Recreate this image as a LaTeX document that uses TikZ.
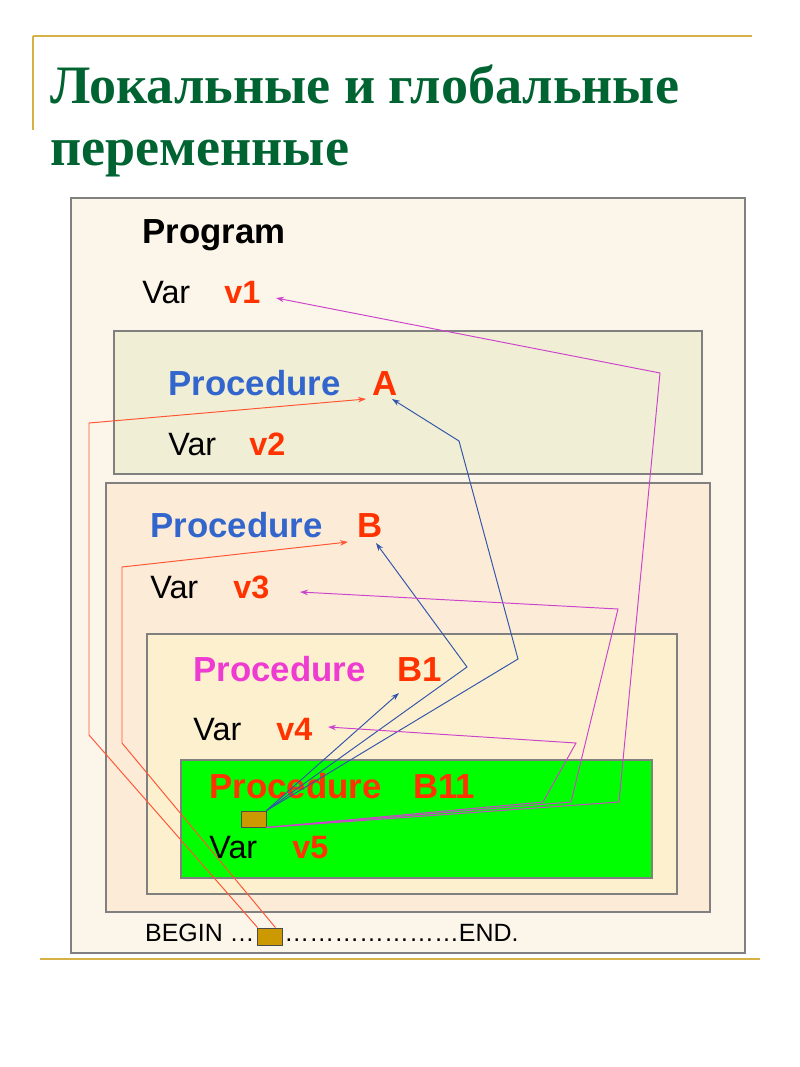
\documentclass[tikz,border=0pt]{standalone}
\usepackage{fontspec}
\setmainfont{Liberation Sans}
\newfontfamily\titlefont{Liberation Serif}
\usetikzlibrary{arrows.meta,calc}
\definecolor{titlegreen}{RGB}{0,100,50}
\definecolor{goldline}{RGB}{214,178,70}
\definecolor{cOuter}{RGB}{252,245,234}
\definecolor{cA}{RGB}{241,238,214}
\definecolor{cB}{RGB}{252,235,215}
\definecolor{cBone}{RGB}{253,240,206}
\definecolor{cBeleven}{RGB}{0,255,0}
\definecolor{framegray}{RGB}{128,128,128}
\definecolor{txtblue}{RGB}{51,102,204}
\definecolor{txtred}{RGB}{255,51,0}
\definecolor{txtmag}{RGB}{238,60,210}
\definecolor{lnred}{RGB}{255,85,51}
\definecolor{lnblue}{RGB}{51,85,170}
\definecolor{lnmag}{RGB}{204,68,204}
\definecolor{boxgold}{RGB}{204,153,0}
\tikzset{
  frame/.style={draw=framegray, line width=0.9pt},
  titletxt/.style={anchor=base west, inner sep=0, text=titlegreen, font=\titlefont\bfseries\fontsize{30.8}{37}\selectfont},
  kw/.style={anchor=base west, inner sep=0, font=\bfseries\fontsize{19.8}{24}\selectfont},
  vartxt/.style={anchor=base west, inner sep=0, font=\fontsize{18.4}{22}\selectfont},
  varname/.style={anchor=base west, inner sep=0, text=txtred, font=\bfseries\fontsize{18.4}{22}\selectfont},
  smallbox/.style={draw=black!70, fill=boxgold, line width=0.5pt, inner sep=0, minimum width=0.5cm},
  conn/.style={line width=0.55pt, -{Stealth[length=1.6mm,width=1.1mm]}},
  redline/.style={conn, draw=lnred},
  blueline/.style={conn, draw=lnblue},
  magline/.style={conn, draw=lnmag},
  goldrule/.style={draw=goldline, line width=1.4pt},
  codetxt/.style={inner sep=0, font=\fontsize{14.2}{17}\selectfont}
}
\begin{document}
\begin{tikzpicture}[x=0.02cm,y=-0.02cm]
\useasboundingbox[fill=white] (0,0) rectangle (800,1067);
% decorative rules
\draw[goldrule] (33,36) -- (752,36);
\draw[goldrule] (33,36) -- (33,130);
\draw[goldrule] (40,959) -- (760,959);
% title
\node[titletxt] (t1) at (50,104) {Локальные и глобальные};
\node[titletxt] (t2) at (50,166) {переменные};
% frames
\draw[frame, fill=cOuter] (71,198) rectangle (745,953);
\draw[frame, fill=cA] (114,331) rectangle (702,474);
\draw[frame, fill=cB] (106,483) rectangle (710,912);
\draw[frame, fill=cBone] (147,634) rectangle (677,894);
\draw[frame, fill=cBeleven] (181,760) rectangle (652,878);
% texts
\node[kw] (prog) at (142,244) {Program};
\node[vartxt] (var1) at (142,303) {Var};
\node[varname] (v1) at (224,303) {v1};
\node[kw, text=txtblue] (procA) at (168,395) {Procedure};
\node[kw, text=txtred] (nA) at (372,395) {A};
\node[vartxt] (var2) at (168,455) {Var};
\node[varname] (v2) at (249,455) {v2};
\node[kw, text=txtblue] (procB) at (150,537) {Procedure};
\node[kw, text=txtred] (nB) at (357,537) {B};
\node[vartxt] (var3) at (150,598) {Var};
\node[varname] (v3) at (233,598) {v3};
\node[kw, text=txtmag] (procBone) at (193,681) {Procedure};
\node[kw, text=txtred] (nBone) at (397,681) {B1};
\node[vartxt] (var4) at (193,740) {Var};
\node[varname] (v4) at (276,740) {v4};
\node[kw, text=txtred] (procBel) at (209,798) {Procedure};
\node[kw, text=txtred] (nBel) at (413,798) {B11};
\node[vartxt] (var5) at (209,858) {Var};
\node[varname] (v5) at (292,858) {v5};
% call boxes
\node[smallbox, minimum height=0.32cm] (sbox) at (253.5,819) {};
\node[smallbox, minimum height=0.34cm] (bbox) at (269.5,936.5) {};
\node[codetxt, anchor=base east] (begin) at (255,941) {BEGIN …};
\node[codetxt, anchor=base west] (endtxt) at (284,941) {…………………END.};
% target points
\coordinate (tA) at (366,399);
\coordinate (tB) at (348,542);
\coordinate (tAb) at (392,399);
\coordinate (tBb) at (376,543);
\coordinate (tBone) at (399,693);
\coordinate (tv1) at (276,298);
\coordinate (tv3) at (300,592);
\coordinate (tv4) at (328,727);
% red connectors from main program body
\draw[redline] ($(bbox.north west)+(1,0)$) -- (89,735) -- (89,423) -- (tA);
\draw[redline] ($(bbox.north east)+(-7,0)$) -- (122,743) -- (122,567) -- (tB);
% blue connectors (procedure calls)
\draw[blueline] (sbox.north east) -- (518,659) -- (459,441) -- (tAb);
\draw[blueline] (sbox.north east) -- (467,667) -- (tBb);
\draw[blueline] (sbox.north east) -- (tBone);
% magenta connectors (variables)
\draw[magline] (sbox.south east) -- (619,802) -- (660,373) -- (tv1);
\draw[magline] (sbox.south east) -- (571,802) -- (618,609) -- (tv3);
\draw[magline] (sbox.south east) -- (543,802) -- (576,743) -- (tv4);
\end{tikzpicture}
\end{document}
